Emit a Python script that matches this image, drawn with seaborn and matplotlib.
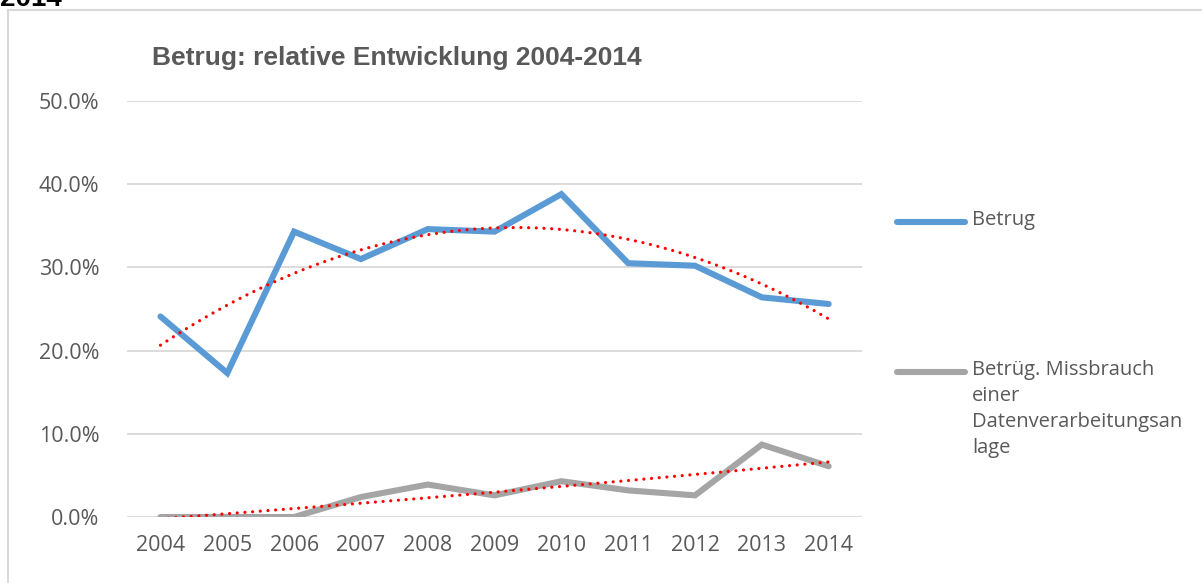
import numpy as np
import pandas as pd
import matplotlib
matplotlib.use("Agg")
import matplotlib.pyplot as plt
import seaborn as sns
from matplotlib.lines import Line2D
from matplotlib.patches import Rectangle
from matplotlib.ticker import PercentFormatter

years = [2004, 2005, 2006, 2007, 2008, 2009, 2010, 2011, 2012, 2013, 2014]
betrug = [24.1, 17.3, 34.3, 31.0, 34.6, 34.3, 38.8, 30.5, 30.2, 26.4, 25.6]
missbrauch = [0.0, 0.0, 0.0, 2.4, 3.9, 2.6, 4.3, 3.2, 2.6, 8.7, 6.1]
series_names = ["Betrug", "Betrüg. Missbrauch einer Datenverarbeitungsanlage"]
legend_labels = ["Betrug", "Betrüg. Missbrauch\neiner\nDatenverarbeitungsan\nlage"]
colors = ["#5B9BD5", "#A5A5A5"]

sns.set_theme(style="white")
plt.rcParams["font.family"] = ["Open Sans", "DejaVu Sans"]

df = pd.DataFrame({
    "pos": list(range(len(years))) * 2,
    "wert": betrug + missbrauch,
    "serie": [series_names[0]] * len(years) + [series_names[1]] * len(years),
})

# polynomial trendlines (order 2), like the Excel trendline
x = np.arange(len(years))
trend_rows = []
for name, vals in zip(series_names, [betrug, missbrauch]):
    coef = np.polyfit(x, vals, 2)
    xs = np.linspace(0, len(years) - 1, 200)
    trend_rows.append(pd.DataFrame({"pos": xs, "wert": np.polyval(coef, xs), "serie": name}))
trend = pd.concat(trend_rows)

fig = plt.figure(figsize=(12.02, 5.83), dpi=100)
ax = fig.add_axes([0.1057, 0.1132, 0.6115, 0.7136])

for i, name in enumerate(series_names):
    sub = df[df["serie"] == name]
    sns.lineplot(data=sub, x="pos", y="wert", color=colors[i], linewidth=4.4,
                 ax=ax, legend=False, solid_capstyle="round", solid_joinstyle="miter", zorder=3)
for name in series_names:
    sub = trend[trend["serie"] == name]
    sns.lineplot(data=sub, x="pos", y="wert", color="#FF0000", linewidth=2.3,
                 linestyle=(0, (0.01, 2.4)), dash_capstyle="round",
                 ax=ax, legend=False, zorder=4)

ax.set_xlim(-0.5, len(years) - 0.5)
ax.set_ylim(0, 50)
ax.set_yticks([0, 10, 20, 30, 40, 50])
ax.yaxis.set_major_formatter(PercentFormatter(decimals=1))
ax.set_xticks(x)
ax.set_xticklabels([str(y) for y in years])
ax.grid(axis="y", color="#D9D9D9", linewidth=1.3)
ax.set_axisbelow(True)
for s in ax.spines.values():
    s.set_visible(False)
ax.tick_params(axis="both", length=0, labelsize=15.5, labelcolor="#595959")
ax.tick_params(axis="x", pad=13)
ax.tick_params(axis="y", pad=20)
ax.set_xlabel("")
ax.set_ylabel("")

fig.text(152 / 1202, 1 - 58 / 583, "Betrug: relative Entwicklung 2004-2014",
         fontsize=19, fontweight="bold", color="#595959",
         family="Liberation Sans", va="center", ha="left")

# cropped heading from the page above
fig.text(0.0, 1 - 6 / 583, "2014", fontsize=20, fontweight="bold", color="black",
         family="Liberation Sans", va="baseline", ha="left")

# chart border
fig.add_artist(Rectangle((8 / 1202, -0.05), 1.2, 1 - 10 / 583 + 0.05,
                         transform=fig.transFigure, fill=False,
                         edgecolor="#D9D9D9", linewidth=1.5))

# legend
leg_y = [222, 372]
for i, lab in enumerate(legend_labels):
    yy = 1 - leg_y[i] / 583
    fig.add_artist(Line2D([897 / 1202, 965 / 1202], [yy, yy], transform=fig.transFigure,
                          color=colors[i], linewidth=4.4, solid_capstyle="round"))
    fig.text(972 / 1202, yy + 0.02, lab, fontsize=14.5, color="#595959",
             va="top", ha="left", linespacing=1.4)

fig.savefig("out.png", dpi=100)
